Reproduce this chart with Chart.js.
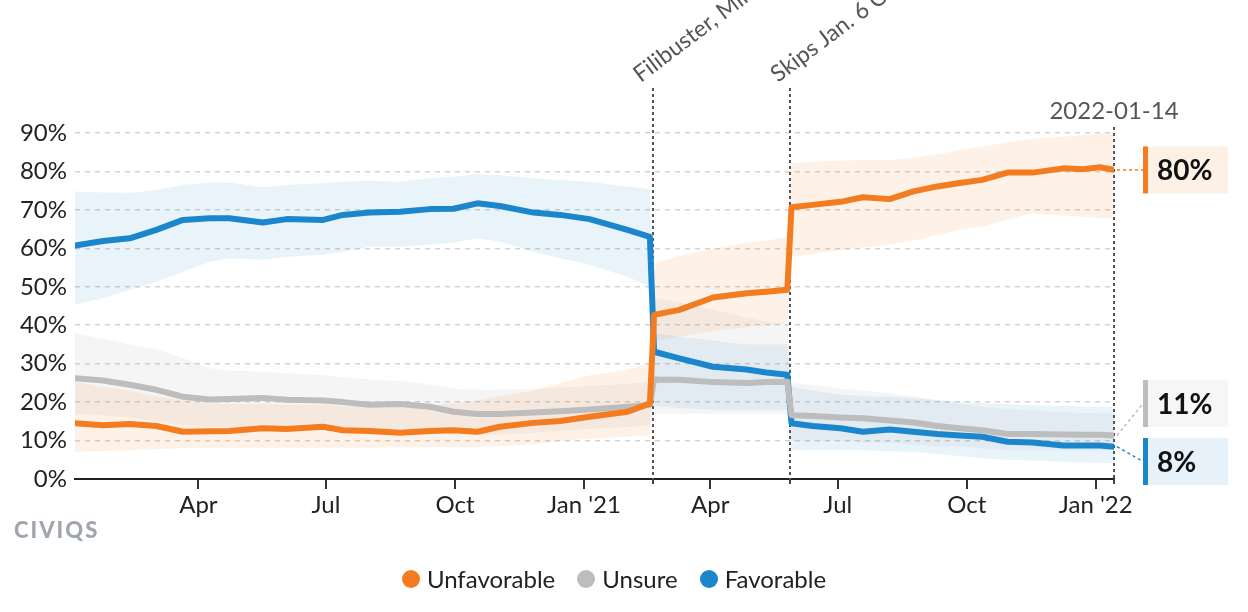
<!DOCTYPE html>
<html>
<head>
<meta charset="utf-8">
<script src="https://cdn.jsdelivr.net/npm/chart.js@4.4.1/dist/chart.umd.min.js"></script>
<style>
  body { margin: 0; background: #fff; font-family: Lato, sans-serif; }
  #wrap { position: relative; width: 1248px; height: 612px; overflow: hidden; }
  #chart { position: absolute; left: 0; top: 0; }
  #logo { position: absolute; left: 14px; top: 516px; font: 900 22px Lato, sans-serif; letter-spacing: 2px; color: #a0a6ad; }
  #legend { position: absolute; left: 0; top: 564px; width: 1228px; display: flex; justify-content: center; gap: 22px; font-size: 24px; color: #222; }
  .item { display: flex; align-items: center; gap: 7px; }
  .dot { width: 18px; height: 18px; border-radius: 50%; }
</style>
</head>
<body>
<div id="wrap">
  <canvas id="chart" width="1248" height="612"></canvas>
  <div id="logo">CIVIQS</div>
  <div id="legend"></div>
</div>
<script>
const dates = [
  '2020-01-04','2020-01-24','2020-02-12','2020-03-02','2020-03-21','2020-04-09','2020-04-23','2020-05-17','2020-06-03','2020-06-29',
  '2020-07-13','2020-08-01','2020-08-23','2020-09-13','2020-09-30','2020-10-17','2020-11-02','2020-11-26','2020-12-15','2021-01-05',
  '2021-02-01','2021-02-17','2021-02-20','2021-03-10','2021-04-03','2021-04-27','2021-05-11','2021-05-26','2021-05-29','2021-06-13',
  '2021-07-03','2021-07-19','2021-08-07','2021-08-24','2021-09-10','2021-09-26','2021-10-12','2021-10-30','2021-11-17','2021-12-09',
  '2021-12-23','2022-01-04','2022-01-14'
];

const unfavorable = [
  14.5, 14.0, 14.3, 13.8, 12.3, 12.4, 12.5, 13.2, 13.0, 13.6,
  12.7, 12.5, 12.0, 12.5, 12.7, 12.3, 13.6, 14.6, 15.1, 16.2,
  17.5, 19.6, 42.7, 44.0, 47.2, 48.3, 48.7, 49.2, 70.7, 71.3,
  72.1, 73.3, 72.8, 74.8, 76.1, 77.0, 77.8, 79.7, 79.7, 80.8,
  80.6, 81.1, 80.4
];
const unsure = [
  26.2, 25.6, 24.5, 23.2, 21.4, 20.7, 20.8, 21.1, 20.6, 20.4,
  20.0, 19.3, 19.5, 18.8, 17.5, 16.9, 16.9, 17.3, 17.6, 18.1,
  18.8, 19.3, 25.9, 25.8, 25.2, 25.0, 25.2, 25.3, 16.6, 16.4,
  16.0, 15.8, 15.2, 14.7, 13.8, 13.2, 12.7, 11.7, 11.7, 11.6,
  11.5, 11.5, 11.3
];
const favorable = [
  60.7, 61.9, 62.6, 64.8, 67.4, 67.8, 67.8, 66.7, 67.6, 67.4,
  68.7, 69.3, 69.5, 70.2, 70.3, 71.7, 71.0, 69.3, 68.7, 67.6,
  64.8, 63.0, 33.1, 31.4, 29.2, 28.5, 27.7, 27.1, 14.5, 13.8,
  13.2, 12.3, 12.9, 12.3, 11.7, 11.3, 11.0, 9.7, 9.5, 8.7,
  8.7, 8.7, 8.4
];

// uncertainty bands
const unfavorableHigh = [
  25.3, 24.0, 23.0, 21.5, 20.5, 19.7, 19.5, 19.5, 19.3, 19.3,
  19.0, 18.8, 18.8, 19.2, 19.7, 20.5, 21.5, 23.0, 25.0, 27.0,
  28.5, 30.1, 56.0, 58.0, 60.0, 61.5, 62.0, 63.0, 82.1, 82.5,
  82.8, 83.0, 83.0, 83.5, 84.5, 85.5, 86.5, 87.5, 88.5, 89.0,
  89.5, 89.9, 89.9
];
const unfavorableLow = [
  7.1, 7.3, 7.5, 7.8, 8.0, 8.1, 8.1, 8.1, 8.1, 8.1,
  8.1, 8.1, 8.2, 8.3, 8.3, 8.3, 8.5, 9.0, 9.8, 10.5,
  11.0, 11.4, 36.0, 37.0, 38.5, 39.5, 40.0, 40.5, 57.8, 58.5,
  59.5, 60.2, 60.9, 62.0, 63.5, 64.8, 65.6, 67.5, 69.1, 68.5,
  68.2, 67.8, 67.8
];
const unsureHigh = [
  37.9, 36.5, 35.0, 33.8, 31.5, 28.8, 28.2, 27.9, 27.5, 27.0,
  26.5, 25.8, 25.5, 24.5, 23.5, 23.2, 23.2, 23.5, 23.8, 24.2,
  24.8, 25.2, 47.0, 46.0, 44.0, 42.0, 41.0, 40.5, 25.0, 24.5,
  23.5, 23.0, 22.3, 21.5, 20.5, 19.5, 18.8, 18.2, 17.8, 17.3,
  17.2, 17.1, 17.1
];
const unsureLow = [
  17.0, 16.5, 16.0, 15.0, 14.0, 13.5, 13.5, 13.5, 13.5, 13.5,
  13.5, 13.0, 13.0, 12.5, 12.0, 11.5, 11.5, 12.0, 12.5, 13.0,
  13.5, 14.0, 17.0, 17.0, 17.0, 17.0, 17.0, 17.0, 10.0, 10.0,
  10.0, 9.5, 9.5, 9.0, 8.5, 8.5, 8.0, 7.5, 7.5, 7.5,
  7.5, 7.5, 7.5
];
const favorableHigh = [
  74.8, 74.5, 74.4, 75.2, 76.5, 77.1, 77.1, 75.9, 76.5, 76.9,
  77.3, 77.6, 77.3, 78.2, 78.6, 79.3, 79.1, 78.2, 77.8, 77.3,
  76.1, 75.4, 38.0, 37.0, 36.0, 35.0, 35.0, 35.0, 24.0, 23.0,
  22.0, 21.5, 21.4, 21.0, 20.5, 20.0, 19.7, 19.5, 19.2, 19.0,
  18.8, 18.8, 18.8
];
const favorableLow = [
  45.3, 47.0, 49.2, 51.3, 53.9, 56.5, 57.4, 57.0, 57.8, 58.3,
  59.1, 60.4, 60.4, 60.9, 61.5, 62.6, 61.7, 59.1, 57.4, 55.7,
  52.6, 50.0, 19.0, 18.5, 18.0, 18.0, 18.0, 18.0, 7.5, 7.5,
  7.5, 7.5, 7.2, 7.0, 6.5, 6.0, 5.4, 5.0, 4.8, 4.5,
  4.3, 4.2, 4.1
];

const tickDates = ['2020-04-01','2020-07-01','2020-10-01','2021-01-01','2021-04-01','2021-07-01','2021-10-01','2022-01-01'];
const tickLabels = ['Apr', 'Jul', 'Oct', "Jan '21", 'Apr', 'Jul', 'Oct', "Jan '22"];
const yTicks = [0, 10, 20, 30, 40, 50, 60, 70, 80, 90];
const eventDates = ['2021-02-19', '2021-05-28'];
const eventLabels = ['Filibuster, Minimum Wage', 'Skips Jan. 6 Commission'];

const series = [
  { label: 'Unfavorable', values: unfavorable, hi: unfavorableHigh, lo: unfavorableLow,
    color: '#f47c20', band: 'rgba(244,124,32,0.1)', box: '#fdf0e4' },
  { label: 'Unsure', values: unsure, hi: unsureHigh, lo: unsureLow,
    color: '#bdbdbd', band: 'rgba(170,170,170,0.12)', box: '#f6f6f6' },
  { label: 'Favorable', values: favorable, hi: favorableHigh, lo: favorableLow,
    color: '#1b86cc', band: 'rgba(27,134,204,0.1)', box: '#e6f1fa' }
];

function day(s) {
  const [y, m, d] = s.split('-').map(Number);
  return Date.UTC(y, m - 1, d) / 86400000;
}
const xs = dates.map(day);
const pts = arr => arr.map((v, i) => ({ x: xs[i], y: v }));

Chart.defaults.font.family = 'Lato, sans-serif';
Chart.defaults.color = '#222';

const datasets = [];
series.forEach(s => {
  datasets.push({ data: pts(s.hi), fill: '+1', backgroundColor: s.band, borderWidth: 0, pointRadius: 0 });
  datasets.push({ data: pts(s.lo), fill: false, borderWidth: 0, pointRadius: 0 });
});
series.forEach(s => {
  datasets.push({ label: s.label, data: pts(s.values), borderColor: s.color, borderWidth: 6,
    pointRadius: 0, tension: 0, fill: false, borderJoinStyle: 'round', borderCapStyle: 'round' });
});

function seg(ctx, x1, y1, x2, y2) {
  ctx.beginPath();
  ctx.moveTo(x1, y1);
  ctx.lineTo(x2, y2);
  ctx.stroke();
}

const overlay = {
  id: 'overlay',
  beforeDatasetsDraw(chart) {
    const { ctx, chartArea: a, scales: { x } } = chart;
    ctx.save();
    ctx.strokeStyle = '#555';
    ctx.lineWidth = 2;
    ctx.setLineDash([3, 3]);
    eventDates.forEach(d => {
      const px = Math.round(x.getPixelForValue(day(d)));
      seg(ctx, px, a.top - 45, px, a.bottom);
    });
    const ex = Math.round(x.getPixelForValue(xs[xs.length - 1]));
    seg(ctx, ex, a.top - 6, ex, a.bottom);
    ctx.restore();
  },
  afterDraw(chart) {
    const { ctx, chartArea: a, scales: { x, y } } = chart;
    ctx.save();
    // small ticks under the axis
    ctx.strokeStyle = '#444';
    ctx.lineWidth = 2;
    const small = eventDates.map(day).concat([xs[xs.length - 1]]);
    small.forEach(v => {
      const px = Math.round(x.getPixelForValue(v));
      seg(ctx, px, a.bottom, px, a.bottom + 5);
    });

    // rotated event labels
    ctx.fillStyle = '#555';
    ctx.font = '23px Lato, sans-serif';
    ctx.textAlign = 'left';
    ctx.textBaseline = 'alphabetic';
    eventDates.forEach((d, i) => {
      const px = x.getPixelForValue(day(d));
      ctx.save();
      ctx.translate(px - 12, a.top - 50);
      ctx.rotate(-37 * Math.PI / 180);
      ctx.fillText(eventLabels[i], 0, 0);
      ctx.restore();
    });

    // last date label
    const ex = x.getPixelForValue(xs[xs.length - 1]);
    ctx.font = '24px Lato, sans-serif';
    ctx.textAlign = 'center';
    ctx.fillText(dates[dates.length - 1], ex, a.top - 14);

    // end value boxes
    const boxH = 47, gap = 11;
    const boxes = series.map(s => {
      const v = s.values[s.values.length - 1];
      const ny = y.getPixelForValue(v);
      return { s, v, ny, cy: ny };
    }).sort((p, q) => p.ny - q.ny);
    for (let i = 1; i < boxes.length; i++) {
      boxes[i].cy = Math.max(boxes[i].cy, boxes[i - 1].cy + boxH + gap);
    }
    const limit = a.bottom + 6 - boxH / 2;
    if (boxes[boxes.length - 1].cy > limit) boxes[boxes.length - 1].cy = limit;
    for (let i = boxes.length - 2; i >= 0; i--) {
      boxes[i].cy = Math.min(boxes[i].cy, boxes[i + 1].cy - boxH - gap);
    }
    const bx = a.right + 29, bw = 85;
    boxes.forEach(b => {
      ctx.setLineDash([3, 3]);
      ctx.lineWidth = 1.5;
      ctx.strokeStyle = b.s.color;
      seg(ctx, ex + 3, b.ny, bx, b.cy);
      ctx.setLineDash([]);
      ctx.fillStyle = b.s.box;
      ctx.fillRect(bx, b.cy - boxH / 2, bw, boxH);
      ctx.fillStyle = b.s.color;
      ctx.fillRect(bx, b.cy - boxH / 2, 5, boxH);
      ctx.fillStyle = '#111';
      ctx.font = 'bold 28px Lato, sans-serif';
      ctx.textAlign = 'left';
      ctx.textBaseline = 'middle';
      ctx.fillText(Math.round(b.v) + '%', bx + 14, b.cy + 1);
    });
    ctx.restore();
  }
};

new Chart(document.getElementById('chart'), {
  type: 'line',
  data: { datasets },
  options: {
    responsive: false,
    devicePixelRatio: 1,
    animation: false,
    layout: { padding: { left: 0, right: 134, top: 133, bottom: 93 } },
    plugins: {
      legend: { display: false },
      tooltip: { enabled: false },
      filler: { propagate: false, drawTime: 'beforeDatasetsDraw' }
    },
    scales: {
      x: {
        type: 'linear',
        min: xs[0],
        max: xs[xs.length - 1],
        afterBuildTicks: s => { s.ticks = tickDates.map(d => ({ value: day(d) })); },
        afterFit: s => { s.height = 40; },
        ticks: { autoSkip: false, maxRotation: 0, padding: 2, color: '#222', font: { size: 24 },
          callback: (v, i) => tickLabels[i] },
        grid: { drawOnChartArea: false, drawTicks: true, tickLength: 10, color: '#333', lineWidth: 2 },
        border: { display: true, color: '#222', width: 2 }
      },
      y: {
        min: 0,
        max: 90,
        afterBuildTicks: s => { s.ticks = yTicks.map(v => ({ value: v })); },
        afterFit: s => { s.width = 75; },
        ticks: { padding: 8, color: '#222', font: { size: 24 }, callback: v => v + '%' },
        grid: { drawTicks: false, color: '#d3d3d3', lineWidth: 1.5 },
        border: { display: false, dash: [5, 5] }
      }
    }
  },
  plugins: [overlay]
});

const legend = document.getElementById('legend');
series.forEach(s => {
  const item = document.createElement('div');
  item.className = 'item';
  item.innerHTML = `<span class="dot" style="background:${s.color}"></span><span>${s.label}</span>`;
  legend.appendChild(item);
});
</script>
</body>
</html>
